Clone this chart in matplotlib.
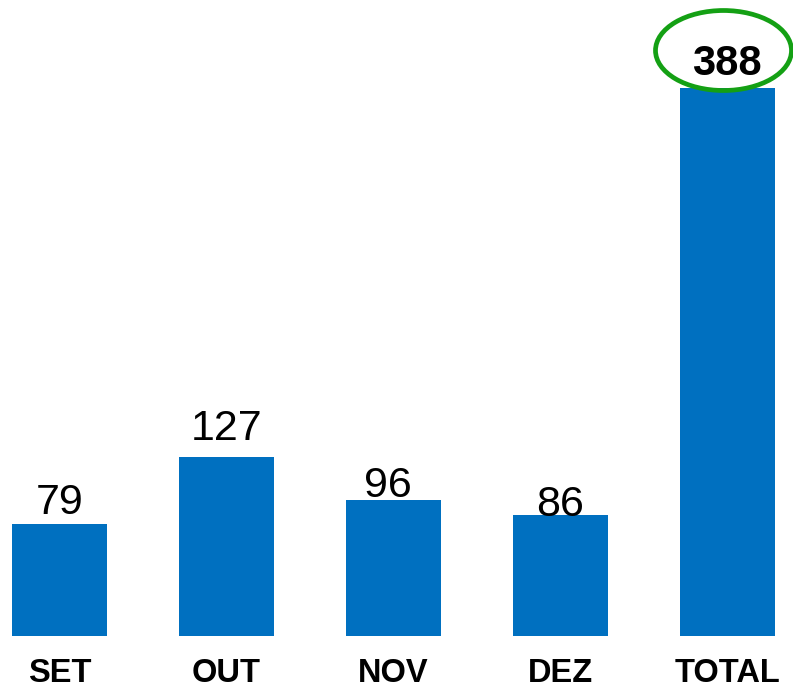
import matplotlib
matplotlib.use("Agg")
import matplotlib.pyplot as plt
from matplotlib.patches import Ellipse

categories = ["SET", "OUT", "NOV", "DEZ", "TOTAL"]
values = [79, 127, 96, 86, 388]
label_offsets_px = [10, 17, 3, -1, 13]  # gap between bar top and label baseline
label_xshift_px = [0, 0, -6, 0, -1]

plt.rcParams['font.family'] = ['Liberation Sans', 'DejaVu Sans']

W, H = 793, 688
fig = plt.figure(figsize=(W / 100, H / 100), dpi=100)
ax = fig.add_axes([0, 52 / H, 1, 636 / H])

bar_color = "#0070C0"
x = list(range(len(categories)))
ax.bar(x, values, width=95 / 167, color=bar_color)

ax.set_xlim(-59.5 / 167, -59.5 / 167 + W / 167)
ax.set_ylim(0, 636 * 388 / 548)

for i, (v, off, xs) in enumerate(zip(values, label_offsets_px, label_xshift_px)):
    bold = categories[i] == "TOTAL"
    ax.annotate(str(v), (i, v), xytext=(xs * 0.72, off * 0.72), textcoords="offset points",
                ha="center", va="baseline", fontsize=30 if bold else 31,
                fontweight="bold" if bold else "normal", color="black")

ax.set_xticks(x)
ax.set_xticklabels(categories, fontsize=23.5, fontweight="bold")
ax.tick_params(axis="x", length=0, pad=16)
ax.set_yticks([])
for s in ax.spines.values():
    s.set_visible(False)

# green ellipse highlight around TOTAL label (figure pixel coords)
ell = Ellipse((723.5, H - 50.5), 136, 80, transform=None, fill=False,
              edgecolor="#14A014", linewidth=3.4, clip_on=False)
fig.add_artist(ell)

fig.savefig("out.png", dpi=100)
